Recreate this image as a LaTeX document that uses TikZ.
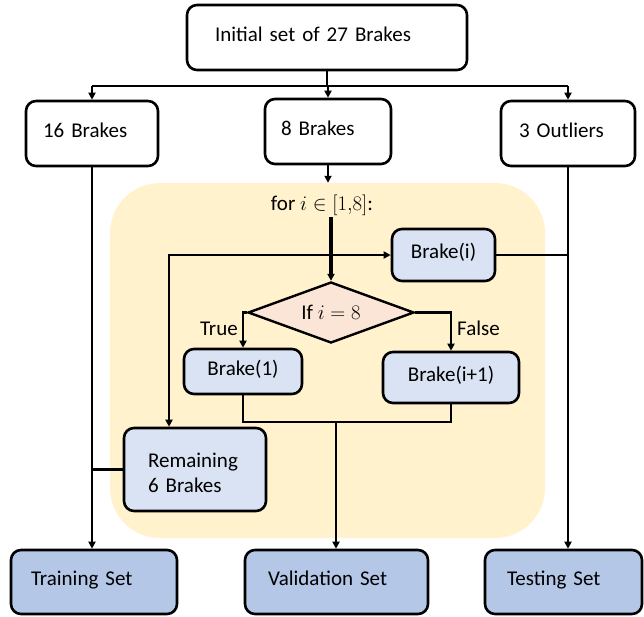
\documentclass[tikz,border=0pt]{standalone}
\usepackage{fontspec}
\setmainfont{Carlito}
\usetikzlibrary{arrows.meta,shapes.geometric}
\definecolor{cyel}{HTML}{FFF2CC}
\definecolor{clb}{HTML}{DAE3F3}
\definecolor{cmb}{HTML}{B4C7E7}
\definecolor{cdia}{HTML}{FBE5D6}
\begin{document}
\begin{tikzpicture}[x=1pt,y=-1pt,
  font=\fontsize{21}{25}\selectfont,
  rbox/.style={draw, line width=2.6pt, rounded corners=10pt, inner ysep=0pt, align=left},
  one/.style={text height=14pt, text depth=7pt},
  conn/.style={line width=2.3pt},
  arr/.style={conn, -{Triangle[length=7pt,width=7pt]}},
  biarr/.style={conn, {Triangle[length=7pt,width=7pt]}-{Triangle[length=7pt,width=7pt]}},
]
\useasboundingbox (0,0) rectangle (644,616);
% background loop region
\node[fill=cyel, rounded corners=50pt, minimum width=435pt, minimum height=355pt, inner sep=0pt] (loop) at (327.5,360.5) {};

% top row
\node[rbox, one, minimum width=280pt, minimum height=65pt, text width=224pt, inner xsep=28pt] (top) at (327,37.5) {Initial set of 27 Brakes};
\node[rbox, one, minimum width=132pt, minimum height=65pt, text width=98pt, inner xsep=17pt] (b16) at (92,133.5) {16 Brakes};
\node[rbox, one, minimum width=126pt, minimum height=65pt, text width=94pt, inner xsep=16pt] (b8) at (328,131.5) {8 Brakes};
\node[rbox, one, minimum width=134pt, minimum height=65pt, text width=98pt, inner xsep=18pt] (b3) at (568,133.5) {3 Outliers};

% bottom row
\node[rbox, one, fill=cmb, minimum width=166pt, minimum height=64pt, text width=126pt, inner xsep=20pt] (train) at (94,582) {Training Set};
\node[rbox, one, fill=cmb, minimum width=183pt, minimum height=64pt, text width=137pt, inner xsep=23pt] (val) at (336.5,582) {Validation Set};
\node[rbox, one, fill=cmb, minimum width=157pt, minimum height=64pt, text width=113pt, inner xsep=22pt] (test) at (563.5,582) {Testing Set};

% loop contents
\node[anchor=base, inner sep=2pt] (forn) at (322,210) {for $i\in[1{,}8]$:};
\node[rbox, one, fill=clb, align=center, minimum width=103pt, minimum height=52pt] (bi) at (443.5,255) {Brake(i)};
\node[diamond, draw, fill=cdia, line width=2.4pt, aspect=2.7, minimum width=166pt, minimum height=61pt, inner sep=0pt] (dia) at (331,312.5) {If $i=8$};
\node[rbox, one, fill=clb, align=center, minimum width=118pt, minimum height=45pt] (b1) at (243,371.5) {Brake(1)};
\node[rbox, one, fill=clb, align=center, minimum width=136pt, minimum height=51pt] (bi1) at (451,377.5) {Brake(i+1)};
\node[rbox, fill=clb, minimum width=142pt, minimum height=83pt, text width=94pt, inner xsep=24pt] (rem) at (195,469.5) {\rule{0pt}{22pt}Remaining\\6 Brakes};
\node[anchor=base east, inner sep=0pt] (tl) at (238,335) {True};
\node[anchor=base west, inner sep=0pt] (fl) at (457,335) {False};

% connectors
\coordinate (bus) at (327,86);
\coordinate (lc) at (169,255);
\coordinate (mj) at (336,422);
\draw[conn] (top.south) -- (bus);
\draw[conn] (b16.north |- bus) -- (b3.north |- bus);
\draw[arr] (b16.north |- bus) -- (b16.north);
\draw[arr] (b8.north |- bus) -- (b8.north);
\draw[arr] (b3.north |- bus) -- (b3.north);
\draw[arr] (b8.south) -- (b8.south |- loop.north);
\draw[arr, line width=3.2pt] (dia.north |- forn.south) -- (dia.north);
\draw[biarr] (lc |- rem.north) -- (lc) -- (bi.west);
\draw[conn] (bi.east) -- (bi.east -| b3.south);
\draw[arr] (dia.west) -- (dia.west -| b1.north) -- (b1.north);
\draw[arr] (dia.east) -- (dia.east -| bi1.north) -- (bi1.north);
\draw[conn] (b1.south) -- (b1.south |- mj) -- (bi1.south |- mj) -- (bi1.south);
\draw[arr] (mj) -- (mj |- val.north);
\draw[arr] (b16.south) -- (b16.south |- train.north);
\draw[conn] (rem.west) -- (rem.west -| b16.south);
\draw[arr] (b3.south) -- (b3.south |- test.north);
\end{tikzpicture}
\end{document}
